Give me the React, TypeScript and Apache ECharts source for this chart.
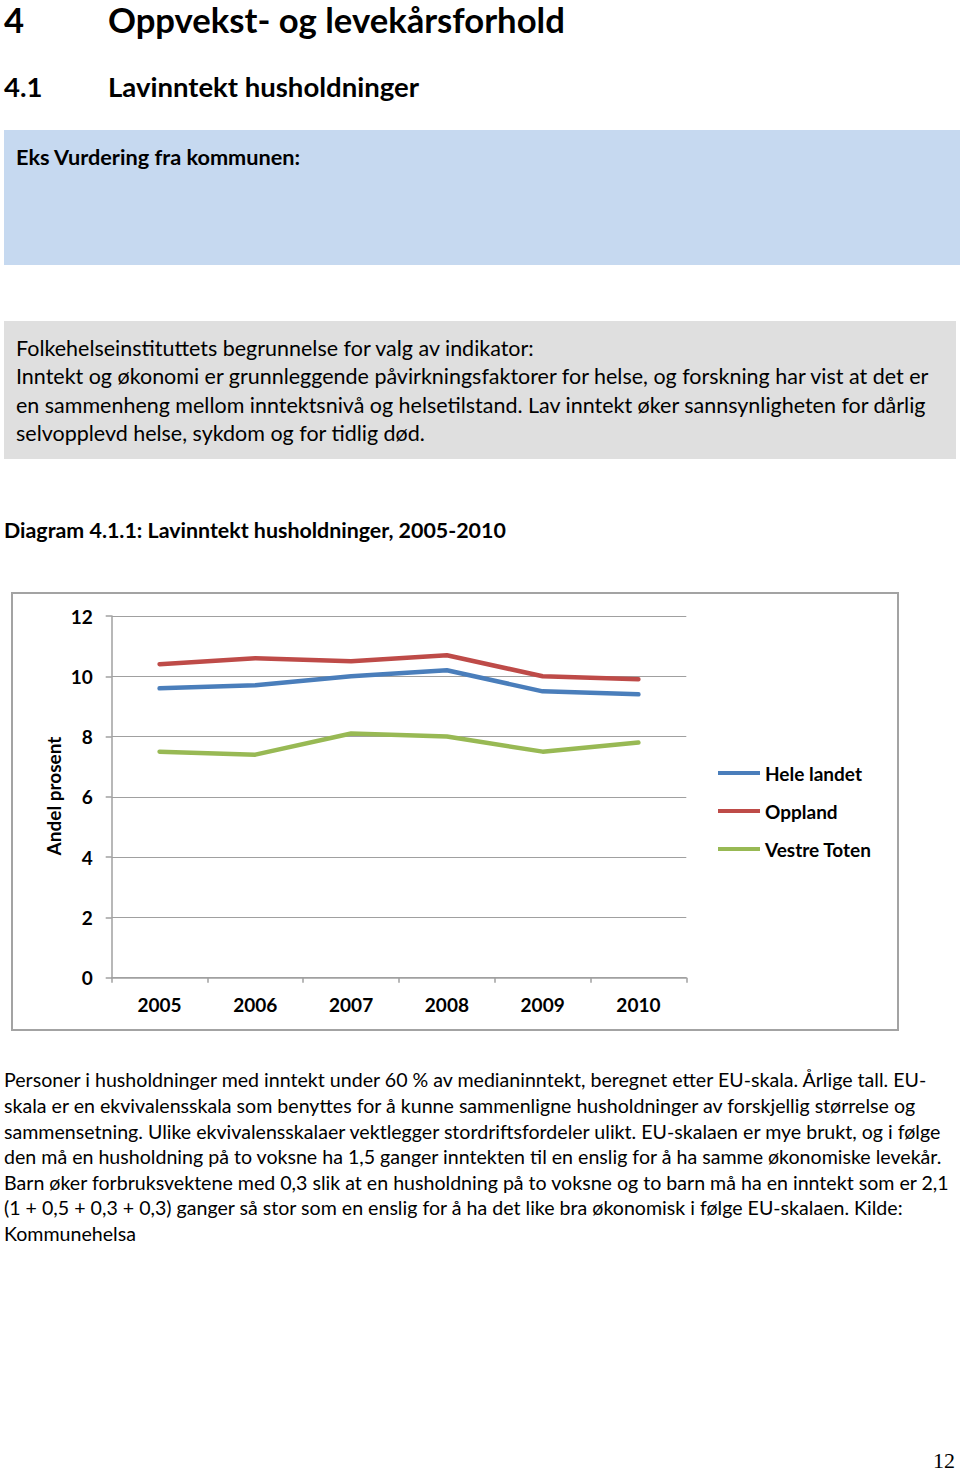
import React, { useEffect, useRef } from "react";
import * as echarts from "echarts";

// ---- data ----
const years = ["2005", "2006", "2007", "2008", "2009", "2010"];
const seriesNames = ["Hele landet", "Oppland", "Vestre Toten"];
const heleLandet = [9.6, 9.7, 10.0, 10.2, 9.5, 9.4];
const oppland = [10.4, 10.6, 10.5, 10.7, 10.0, 9.9];
const vestreToten = [7.5, 7.4, 8.1, 8.0, 7.5, 7.8];
const seriesColors = ["#4a7ebb", "#be4b48", "#98b954"];
const yMin = 0;
const yMax = 12;
const yStep = 2;

// ---- texts ----
const chapterNo = "4";
const chapterTitle = "Oppvekst- og levekårsforhold";
const sectionNo = "4.1";
const sectionTitle = "Lavinntekt husholdninger";
const blueBoxTitle = "Eks Vurdering fra kommunen:";
const grayLines = [
  "Folkehelseinstituttets begrunnelse for valg av indikator:",
  "Inntekt og økonomi er grunnleggende påvirkningsfaktorer for helse, og forskning har vist at det er",
  "en sammenheng mellom inntektsnivå og helsetilstand. Lav inntekt øker sannsynligheten for dårlig",
  "selvopplevd helse, sykdom og for tidlig død.",
];
const diagramTitle = "Diagram 4.1.1: Lavinntekt husholdninger, 2005-2010";
const yAxisName = "Andel prosent";
const noteLines = [
  "Personer i husholdninger med inntekt under 60 % av medianinntekt, beregnet etter EU-skala. Årlige tall. EU-",
  "skala er en ekvivalensskala som benyttes for å kunne sammenligne husholdninger av forskjellig størrelse og",
  "sammensetning. Ulike ekvivalensskalaer vektlegger stordriftsfordeler ulikt. EU-skalaen er mye brukt, og i følge",
  "den må en husholdning på to voksne ha 1,5 ganger inntekten til en enslig for å ha samme økonomiske levekår.",
  "Barn øker forbruksvektene med 0,3 slik at en husholdning på to voksne og to barn må ha en inntekt som er 2,1",
  "(1 + 0,5 + 0,3 + 0,3) ganger så stor som en enslig for å ha det like bra økonomisk i følge EU-skalaen. Kilde:",
  "Kommunehelsa",
];
const pageNo = "12";

const FAMILY = "Lato";

function fitSize(text: string, weight: string, target: number): number {
  const ctx = document.createElement("canvas").getContext("2d");
  if (!ctx) return 20;
  ctx.font = `${weight} 100px ${FAMILY}`;
  const w = ctx.measureText(text).width;
  return (100 * target) / w;
}

export default function App() {
  const ref = useRef<HTMLDivElement>(null);

  useEffect(() => {
    if (!ref.current) return;
    const chart = echarts.init(ref.current, undefined, { renderer: "svg" });

    const h1 = fitSize(chapterTitle, "bold", 457);
    const h2 = fitSize(sectionTitle, "bold", 311);
    const blueSize = fitSize(blueBoxTitle, "bold", 285);
    const graySize = fitSize(grayLines[1], "normal", 915);
    const diagSize = fitSize(diagramTitle, "bold", 502);
    const noteSize = fitSize(noteLines[3], "normal", 939);

    const txt = (
      text: string,
      x: number,
      y: number,
      size: number,
      weight: string,
      extra: any = {}
    ) => ({
      type: "text",
      x,
      y,
      silent: true,
      style: {
        text,
        fill: "#000",
        font: `${weight} ${size.toFixed(2)}px ${FAMILY}`,
        lineHeight: Math.round(size),
        align: "left",
        verticalAlign: "middle",
        ...extra,
      },
    });

    const grayY = [348, 376, 405, 433];
    const noteY = [1079, 1105, 1131, 1156, 1182, 1207, 1233];

    const graphics: any[] = [
      { type: "rect", shape: { x: 4, y: 130, width: 956, height: 135 }, style: { fill: "#c6d9f0" }, silent: true },
      { type: "rect", shape: { x: 4, y: 321, width: 952, height: 138 }, style: { fill: "#dfdfdf" }, silent: true },
      {
        type: "rect",
        shape: { x: 12, y: 593, width: 886, height: 437 },
        style: { fill: "none", stroke: "#a3a3a3", lineWidth: 2 },
        silent: true,
      },
      txt(chapterNo, 4, 19, h1, "bold"),
      txt(chapterTitle, 108, 19, h1, "bold"),
      txt(sectionNo, 4, 86, h2, "bold"),
      txt(sectionTitle, 108, 86, h2, "bold"),
      txt(blueBoxTitle, 16, 157, blueSize, "bold"),
      ...grayLines.map((l, i) => txt(l, 16, grayY[i], graySize, "normal")),
      txt(diagramTitle, 4, 530, diagSize, "bold"),
      ...noteLines.map((l, i) => txt(l, 4, noteY[i], noteSize, "normal")),
      {
        type: "text",
        x: 53,
        y: 796,
        rotation: Math.PI / 2,
        silent: true,
        style: {
          text: yAxisName,
          fill: "#000",
          font: `bold 19px ${FAMILY}`,
          align: "center",
          verticalAlign: "middle",
        },
      },
      {
        type: "text",
        x: 955,
        y: 1460,
        silent: true,
        style: {
          text: pageNo,
          fill: "#000",
          font: `normal 22px 'Liberation Serif'`,
          align: "right",
          verticalAlign: "middle",
        },
      },
    ];

    const axisGray = "#a0a0a0";
    const labelFont = { fontFamily: FAMILY, fontWeight: "bold" as const, fontSize: 19, color: "#000" };

    chart.setOption({
      animation: false,
      backgroundColor: "#fff",
      graphic: { elements: graphics },
      grid: { left: 111.7, right: 960 - 686.3, top: 616, bottom: 1471 - 977.7, containLabel: false },
      legend: {
        orient: "vertical",
        left: 718,
        top: 763,
        padding: 0,
        itemWidth: 42,
        itemHeight: 4,
        itemGap: 18,
        icon: "rect",
        data: seriesNames,
        textStyle: { ...labelFont, lineHeight: 20 },
      },
      xAxis: {
        type: "category",
        data: years,
        boundaryGap: true,
        axisLine: { show: true, lineStyle: { color: axisGray, width: 1.5 } },
        axisTick: { show: true, length: 5, lineStyle: { color: axisGray, width: 1.5 } },
        axisLabel: { ...labelFont, margin: 17 },
        splitLine: { show: false },
      },
      yAxis: {
        type: "value",
        min: yMin,
        max: yMax,
        interval: yStep,
        axisLine: { show: true, lineStyle: { color: axisGray, width: 1.5 } },
        axisTick: { show: true, length: 6, lineStyle: { color: axisGray, width: 1.5 } },
        axisLabel: { ...labelFont, margin: 19 },
        splitLine: { show: true, lineStyle: { color: axisGray, width: 1.2 } },
      },
      series: [heleLandet, oppland, vestreToten].map((d, i) => ({
        name: seriesNames[i],
        type: "line",
        data: d,
        symbol: "none",
        smooth: false,
        color: seriesColors[i],
        itemStyle: { color: seriesColors[i] },
        lineStyle: { color: seriesColors[i], width: 4.5, cap: "round", join: "round" },
      })),
    });

    return () => chart.dispose();
  }, []);

  return (
    <div
      ref={ref}
      style={{ position: "absolute", left: 0, top: 0, width: 960, height: 1471 }}
    />
  );
}
